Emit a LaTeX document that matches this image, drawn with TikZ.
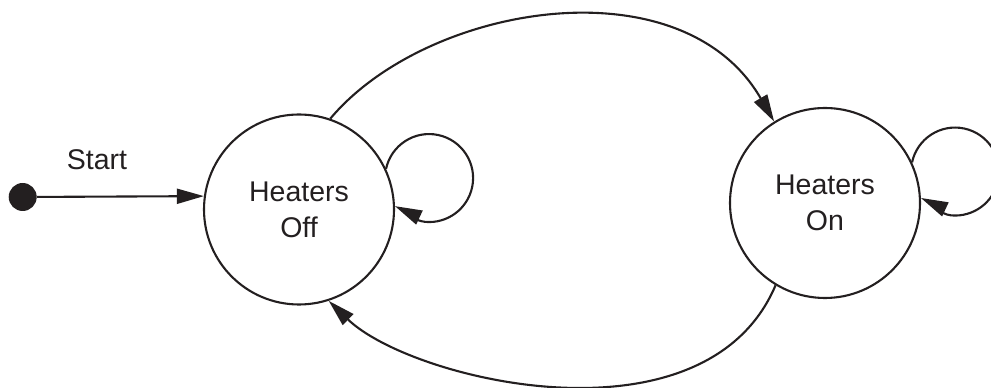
\documentclass[tikz,border=0pt]{standalone}
\usepackage{fontspec}
\setmainfont{Liberation Sans}
\usetikzlibrary{arrows.meta}
\definecolor{ink}{RGB}{35,31,32}
\tikzset{
  state/.style={circle, draw=ink, line width=2.1pt, minimum size=190pt, inner sep=0pt, align=center, text=ink, font=\fontsize{28.5}{36}\selectfont},
  startdot/.style={circle, fill=ink, minimum size=28pt, inner sep=0pt},
  conn/.style={draw=ink, line width=2.1pt, -{Triangle[length=27pt, width=15pt]}},
  lbl/.style={text=ink, font=\fontsize{28.5}{34}\selectfont}
}
\begin{document}
\begin{tikzpicture}[x=1pt, y=1pt]
\useasboundingbox (0,0) rectangle (991,388);
\node[startdot] (dot) at (22.7,191) {};
\node[state] (off) at (299,178.5) {Heaters\\Off};
\node[state] (on) at (825,185) {Heaters\\On};
\node[lbl] (startlbl) at (97,228) {Start};
\draw[conn] (dot) -- (off.172.4);
\draw[conn] (off.71) .. controls +(50:150) and +(120:185) .. (on.122);
\draw[conn] (on.239) .. controls +(247:180) and +(-44:115) .. (off.288);
\draw[conn] (off.25) arc[start angle=168, end angle=-95, radius=44]
  .. controls +(175:12) and +(-25:10) .. (off.2);
\draw[conn] (on.25) arc[start angle=168, end angle=-95, radius=44]
  .. controls +(175:12) and +(-25:10) .. (on.3);
\end{tikzpicture}
\end{document}
